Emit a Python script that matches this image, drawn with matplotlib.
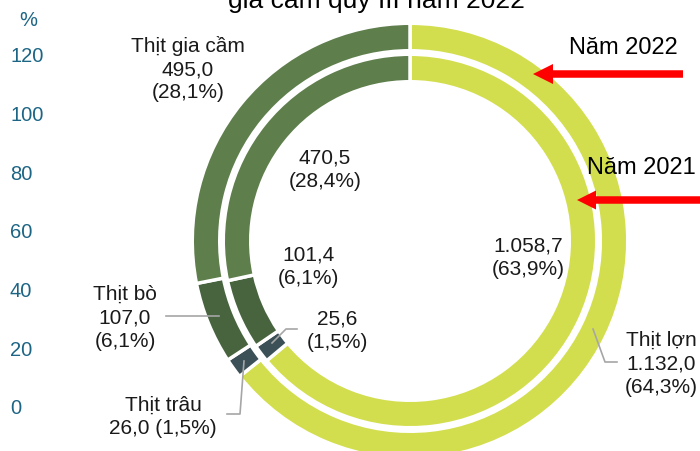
import matplotlib
matplotlib.use('Agg')
import matplotlib.pyplot as plt

plt.rcParams['font.family'] = ['Liberation Sans', 'DejaVu Sans']

# data (thousand tonnes), clockwise from 12 o'clock
categories = ['Thịt lợn', 'Thịt trâu', 'Thịt bò', 'Thịt gia cầm']
vals_2022 = [1132.0, 26.0, 107.0, 495.0]
pct_2022 = ['64,3%', '1,5%', '6,1%', '28,1%']
vals_2021 = [1058.7, 25.6, 101.4, 470.5]
pct_2021 = ['63,9%', '1,5%', '6,1%', '28,4%']
val_txt_2022 = ['1.132,0', '26,0', '107,0', '495,0']
val_txt_2021 = ['1.058,7', '25,6', '101,4', '470,5']
yticks = [0, 20, 40, 60, 80, 100, 120]

colors = ['#D3DE4E', '#3C5058', '#48643F', '#5E7E4C']
teal = '#1D6584'
W, H = 700, 452


def Y(py):
    # pixel row (from top) -> data y
    return H - py


fig = plt.figure(figsize=(7, 4.52), dpi=100)
ax = fig.add_axes([0, 0, 1, 1])

lw_pt = 2.5
lw_px = lw_pt * 100 / 72
cx, cy = 410, Y(242)

# outer ring = 2022, inner ring = 2021
ax.pie(vals_2022, radius=216 + lw_px / 2, center=(cx, cy), startangle=90,
       counterclock=False, colors=colors, explode=[0.03, 0, 0, 0],
       wedgeprops=dict(width=24 + lw_px, edgecolor='white', linewidth=lw_pt))
ax.pie(vals_2021, radius=185 + lw_px / 2, center=(cx, cy), startangle=90,
       counterclock=False, colors=colors,
       wedgeprops=dict(width=24 + lw_px, edgecolor='white', linewidth=lw_pt))

ax.set_xlim(0, W)
ax.set_ylim(0, H)
ax.set_aspect('equal')
ax.axis('off')

fs = 15
ls = 1.3
tc = '#1A1A1A'
# labels 2022 (outer)
ax.text(188, Y(69), f'{categories[3]}\n{val_txt_2022[3]}\n({pct_2022[3]})',
        ha='center', va='center', fontsize=fs, color=tc, linespacing=ls)
ax.text(125, Y(318), f'{categories[2]}\n{val_txt_2022[2]}\n({pct_2022[2]})',
        ha='center', va='center', fontsize=fs, color=tc, linespacing=ls)
ax.text(163, Y(417), f'{categories[1]}\n{val_txt_2022[1]} ({pct_2022[1]})',
        ha='center', va='center', fontsize=fs, color=tc, linespacing=ls)
ax.text(661, Y(364), f'{categories[0]}\n{val_txt_2022[0]}\n({pct_2022[0]})',
        ha='center', va='center', fontsize=fs, color=tc, linespacing=ls)
# labels 2021 (inner)
ax.text(325, Y(170), f'{val_txt_2021[3]}\n({pct_2021[3]})',
        ha='center', va='center', fontsize=fs, color=tc, linespacing=ls)
ax.text(308, Y(267), f'{val_txt_2021[2]}\n({pct_2021[2]})',
        ha='center', va='center', fontsize=fs, color=tc, linespacing=ls)
ax.text(337, Y(331), f'{val_txt_2021[1]}\n({pct_2021[1]})',
        ha='center', va='center', fontsize=fs, color=tc, linespacing=ls)
ax.text(528, Y(258), f'{val_txt_2021[0]}\n({pct_2021[0]})',
        ha='center', va='center', fontsize=fs, color=tc, linespacing=ls)

# leader lines
gray = '#A6A6A6'
ax.plot([166, 219], [Y(317), Y(317)], color=gray, lw=1.2)
ax.plot([244, 240, 227], [Y(362), Y(415), Y(415)], color=gray, lw=1.2)
ax.plot([272, 286, 297], [Y(344), Y(330), Y(330)], color=gray, lw=1.2)
ax.plot([593, 605, 617], [Y(330), Y(363), Y(363)], color=gray, lw=1.2)

# year markers
ax.text(623, Y(48), 'Năm 2022', ha='center', va='center', fontsize=17, color='black')
ax.text(641, Y(168), 'Năm 2021', ha='center', va='center', fontsize=17, color='black')
ax.arrow(683, Y(75), 533 - 683, 0, width=7.5, head_width=20, head_length=20,
         length_includes_head=True, color='#FF0000', lw=0)
ax.arrow(705, Y(201), 577 - 705, 0, width=7.5, head_width=19, head_length=19,
         length_includes_head=True, color='#FF0000', lw=0)

# title, cut off at top (as in the source crop)
ax.text(376, Y(8), 'gia cầm quý III năm 2022', ha='center', va='baseline',
        fontsize=19, color='black')

# leftover % axis
ax2 = fig.add_axes([10 / W, (H - 407) / H, 0.0001, (407 - 55) / H])
ax2.set_ylim(0, 120)
ax2.set_yticks(yticks)
ax2.set_xticks([])
ax2.tick_params(axis='y', length=0, pad=0, labelsize=14.5, labelcolor=teal)
plt.setp(ax2.get_yticklabels(), ha='left')
for s in ax2.spines.values():
    s.set_visible(False)
ax2.patch.set_visible(False)
ax.text(28, Y(20), '%', ha='center', va='center', fontsize=14.5, color=teal)

fig.savefig('out.png', dpi=100)
